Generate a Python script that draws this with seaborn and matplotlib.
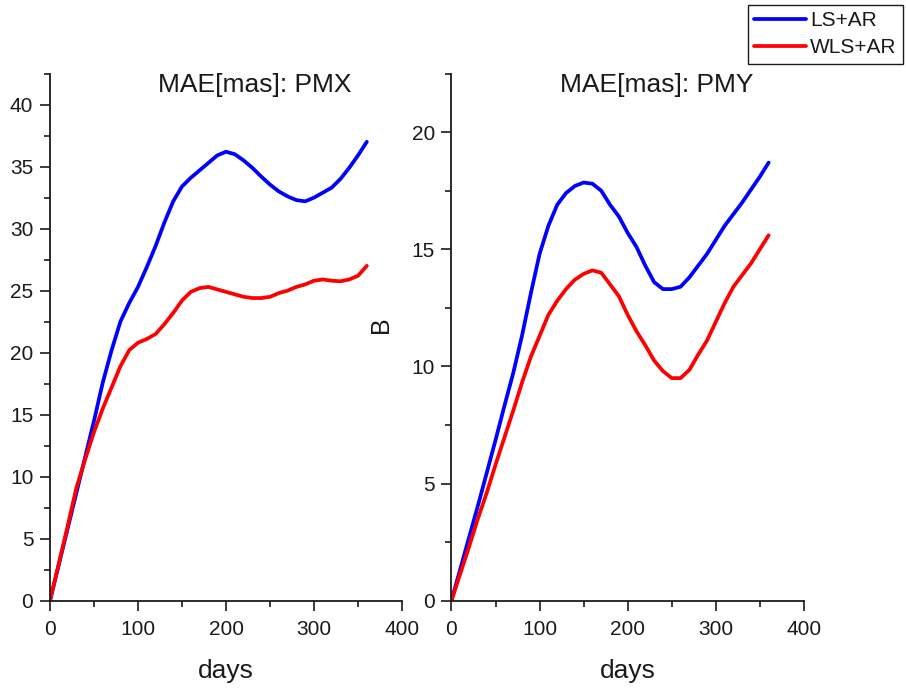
import numpy as np
import pandas as pd
import seaborn as sns
import matplotlib.pyplot as plt
from matplotlib.ticker import MultipleLocator

days = list(range(0, 361, 10))
methods = ["LS+AR", "WLS+AR"]

pmx_ls = [0, 2.9, 5.8, 8.7, 11.6, 14.5, 17.6, 20.2, 22.5, 24.0,
          25.3, 26.9, 28.6, 30.5, 32.2, 33.4, 34.1, 34.7, 35.3, 35.9,
          36.2, 36.0, 35.5, 34.9, 34.2, 33.55, 33.0, 32.6, 32.3, 32.2,
          32.5, 32.9, 33.3, 34.0, 34.9, 35.9, 37.0]
pmx_wls = [0, 3.0, 6.0, 9.1, 11.4, 13.6, 15.5, 17.2, 18.9, 20.2,
           20.8, 21.1, 21.5, 22.3, 23.2, 24.2, 24.9, 25.2, 25.3, 25.1,
           24.9, 24.7, 24.5, 24.4, 24.4, 24.5, 24.8, 25.0, 25.3, 25.5,
           25.8, 25.9, 25.8, 25.75, 25.9, 26.2, 27.0]
pmy_ls = [0, 1.35, 2.7, 4.05, 5.45, 6.85, 8.3, 9.7, 11.3, 13.1,
          14.8, 16.0, 16.9, 17.4, 17.7, 17.85, 17.8, 17.5, 16.9, 16.4,
          15.7, 15.1, 14.3, 13.6, 13.3, 13.3, 13.4, 13.8, 14.3, 14.8,
          15.4, 16.0, 16.5, 17.0, 17.55, 18.1, 18.7]
pmy_wls = [0, 1.15, 2.3, 3.5, 4.6, 5.8, 6.95, 8.1, 9.3, 10.4,
           11.3, 12.2, 12.8, 13.3, 13.7, 13.95, 14.1, 14.0, 13.5, 13.0,
           12.2, 11.5, 10.9, 10.25, 9.8, 9.5, 9.5, 9.85, 10.5, 11.1,
           11.9, 12.7, 13.4, 13.9, 14.4, 15.0, 15.6]

sns.set_style("ticks")
plt.rcParams['font.family'] = ['Liberation Sans', 'DejaVu Sans']

palette = {"LS+AR": "#0000ff", "WLS+AR": "#ff0000"}
ink = "#1a1a1a"


def make_df(ls, wls):
    return pd.DataFrame({
        "days": days + days,
        "value": ls + wls,
        "method": [methods[0]] * len(days) + [methods[1]] * len(days),
    })


fig = plt.figure(figsize=(9.06, 6.88), dpi=100)
ax1 = fig.add_axes([0.0552, 0.127, 0.3885, 0.766])
ax2 = fig.add_axes([0.4983, 0.127, 0.389, 0.766])

panels = [
    (ax1, make_df(pmx_ls, pmx_wls), 42.5, 5, "MAE[mas]: PMX", 41.55),
    (ax2, make_df(pmy_ls, pmy_wls), 22.5, 5, "MAE[mas]: PMY", 22.0),
]

for ax, df, ytop, ystep, title, ty in panels:
    sns.lineplot(data=df, x="days", y="value", hue="method", palette=palette,
                 linewidth=2.7, ax=ax, legend=False,
                 solid_joinstyle="round", solid_capstyle="round")
    ax.set_xlim(0, 400)
    ax.set_ylim(0, ytop)
    ax.xaxis.set_major_locator(MultipleLocator(100))
    ax.xaxis.set_minor_locator(MultipleLocator(50))
    ax.yaxis.set_major_locator(MultipleLocator(ystep))
    ax.yaxis.set_minor_locator(MultipleLocator(ystep / 2))
    ax.tick_params(which="major", length=7, width=1.2, labelsize=15,
                   color=ink, labelcolor=ink)
    ax.tick_params(axis="x", which="major", pad=7)
    ax.tick_params(axis="y", which="major", pad=5)
    ax.tick_params(which="minor", length=4, width=1.2, color=ink)
    for s in ["top", "right"]:
        ax.spines[s].set_visible(False)
    for s in ["left", "bottom"]:
        ax.spines[s].set_linewidth(1.3)
        ax.spines[s].set_color(ink)
    ax.set_xlabel("days", fontsize=19, labelpad=14, color=ink)
    ax.set_ylabel("")
    ax.text(233, ty, title, fontsize=19, ha="center", va="center", color=ink)

ax2.set_ylabel("B", fontsize=18, color=ink)
ax2.yaxis.set_label_coords(-0.165, 0.524)

handles = ax1.get_lines()[:2]
leg = fig.legend(handles, methods, loc="upper right",
                 bbox_to_anchor=(0.9967, 0.993), fontsize=15, frameon=True,
                 fancybox=False, edgecolor=ink, framealpha=1,
                 handlelength=2.5, handletextpad=0.2, labelspacing=0.4,
                 borderpad=0.3, borderaxespad=0)
leg.get_frame().set_linewidth(1.0)
for t in leg.get_texts():
    t.set_color(ink)

fig.savefig("out.png", dpi=100)
